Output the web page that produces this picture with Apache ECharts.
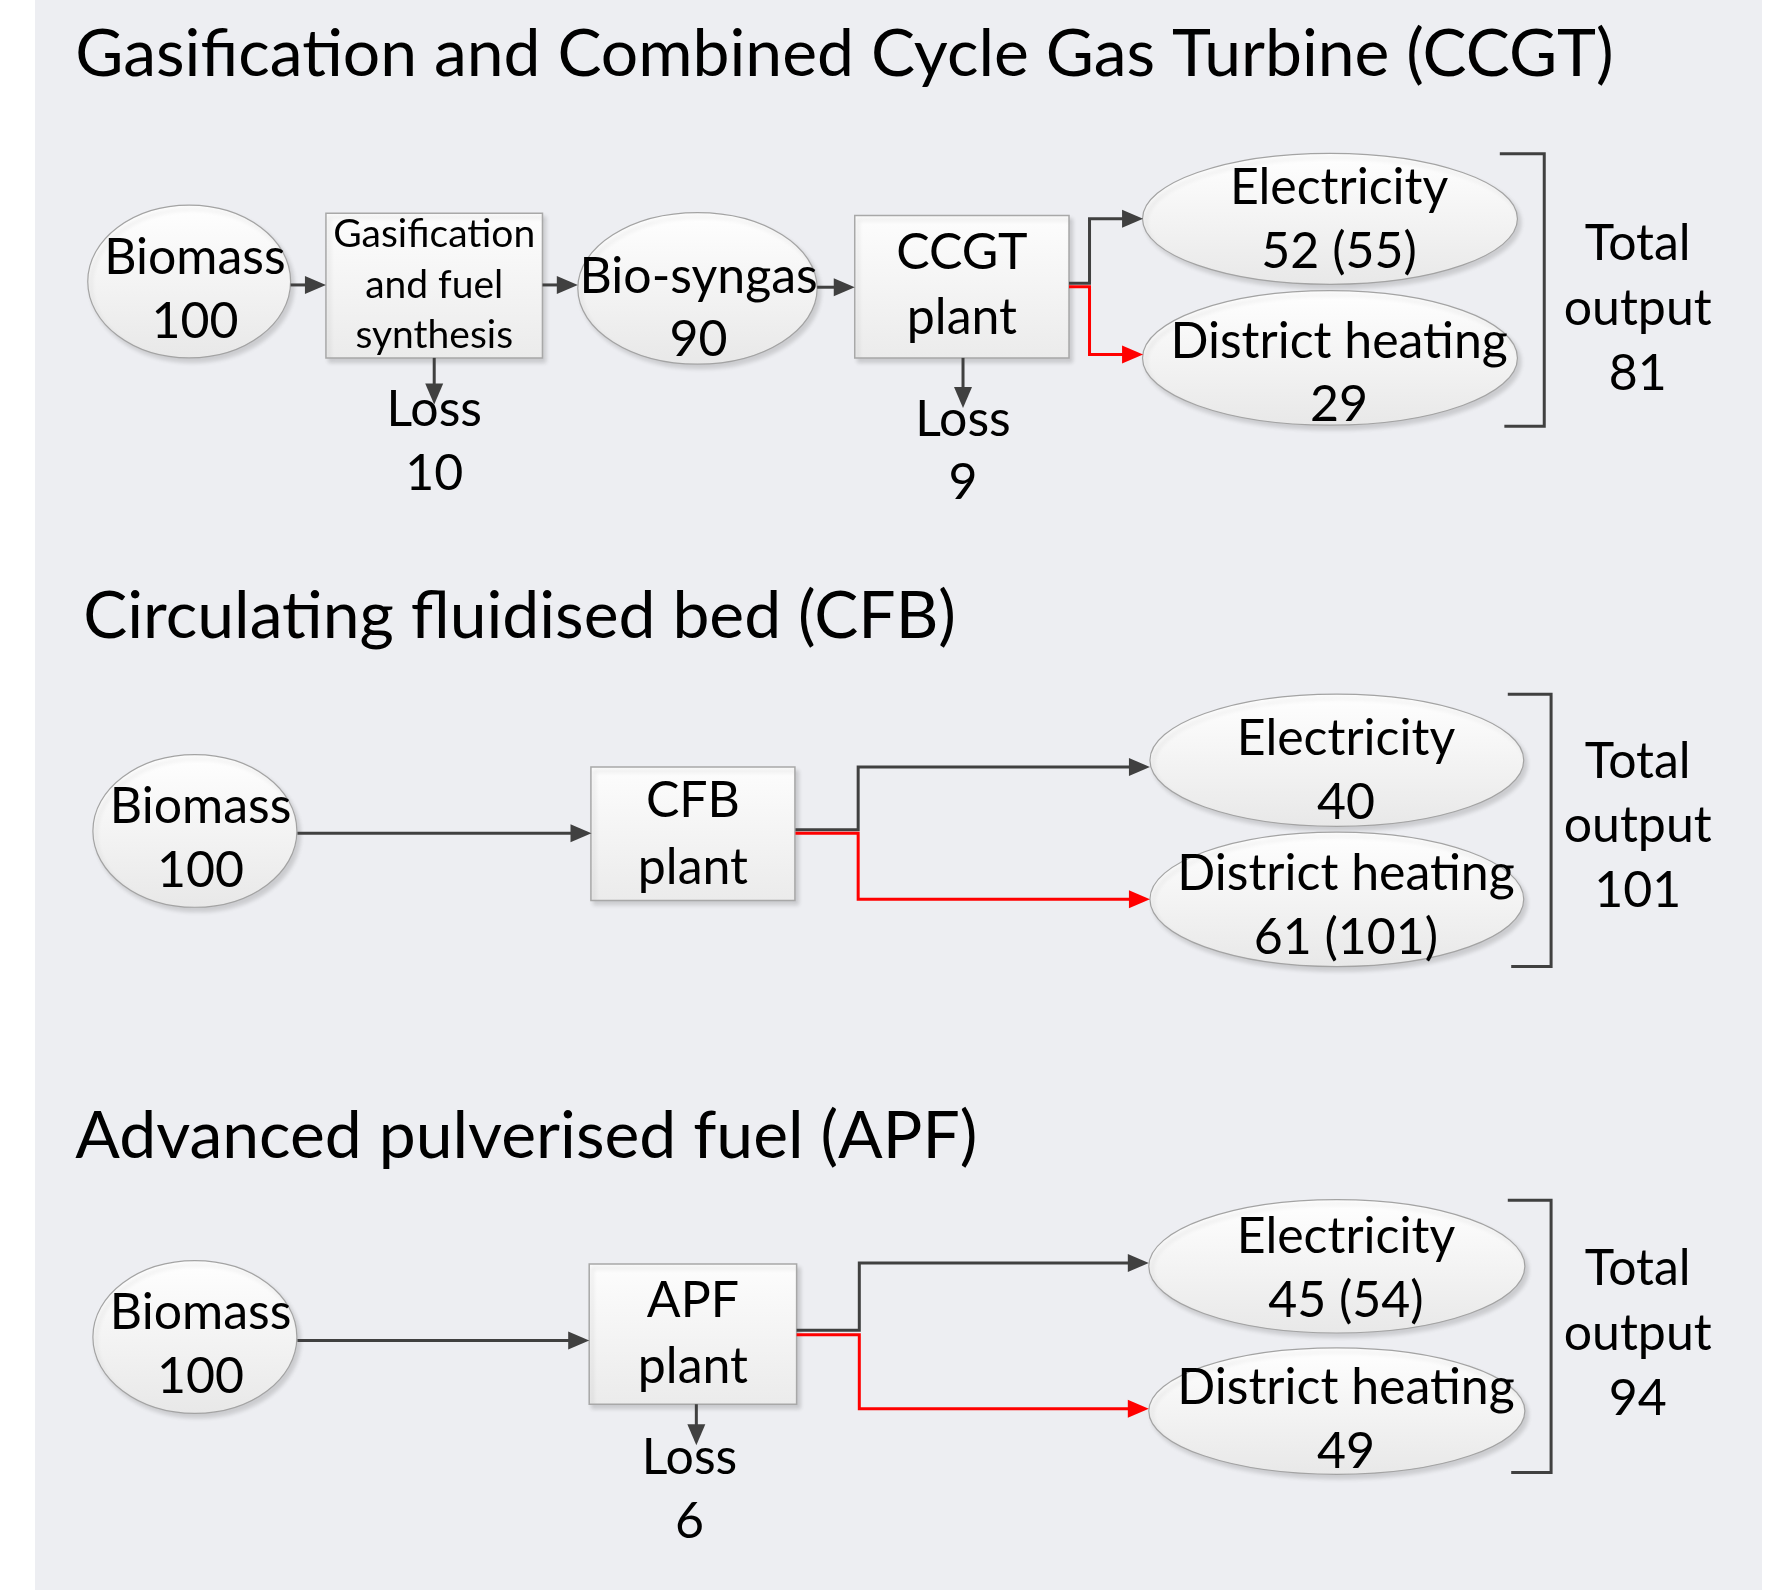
<!DOCTYPE html>
<html>
<head>
<meta charset="utf-8">
<title>Biomass conversion routes</title>
<script src="https://cdn.jsdelivr.net/npm/echarts@6/dist/echarts.min.js"></script>
<style>
  html, body { margin: 0; padding: 0; background: #fff; }
  #main { width: 1787px; height: 1590px; }
</style>
</head>
<body>
<div id="main"></div>
<script>
  // ---- data ----
  const sectionTitles = [
    'Gasification and Combined Cycle Gas Turbine (CCGT)',
    'Circulating fluidised bed (CFB)',
    'Advanced pulverised fuel (APF)'
  ]
  const biomassInput = ['100', '100', '100']
  const gasificationStep = ['Gasification', 'and fuel', 'synthesis']
  const syngasOutput = ['Bio-syngas', '90']
  const plantNames = ['CCGT', 'CFB', 'APF']
  const electricityOut = ['52 (55)', '40', '45 (54)']
  const heatingOut = ['29', '61 (101)', '49']
  const totalOutput = ['81', '101', '94']
  const lossValues = ['10', '9', '6']

  // ---- layout (axis units, x 0..1568, y 0..1395) ----
  const FONT = 'Lato, "Open Sans", sans-serif'
  const BIG = 50
  const SMALL = 39
  const TITLE = 66
  const DARK = '#404040'
  const RED = '#ff0000'

  const nodes = [
    // CCGT
    {shape: 'ellipse', c: [166, 247], size: [178, 134], lines: ['Biomass', biomassInput[0]], ty: [226, 282], tx: 5},
    {shape: 'rect', c: [381, 250.5], size: [190, 127], lines: gasificationStep, ty: [206, 250, 294], fs: SMALL},
    {shape: 'ellipse', c: [612, 253], size: [210, 133], lines: syngasOutput, ty: [243, 298], tx: 1},
    {shape: 'rect', c: [844, 251.5], size: [188, 125], lines: [plantNames[0], 'plant'], ty: [222, 279]},
    {shape: 'ellipse', c: [1167, 192], size: [329, 115], lines: ['Electricity', electricityOut[0]], ty: [165, 221], tx: 8},
    {shape: 'ellipse', c: [1167, 314], size: [329, 118], lines: ['District heating', heatingOut[0]], ty: [300, 355], tx: 8},
    // CFB
    {shape: 'ellipse', c: [171, 729], size: [179, 134], lines: ['Biomass', biomassInput[1]], ty: [708, 764], tx: 5},
    {shape: 'rect', c: [608, 731.5], size: [179, 117], lines: [plantNames[1], 'plant'], ty: [703, 761]},
    {shape: 'ellipse', c: [1173, 667], size: [328, 116], lines: ['Electricity', electricityOut[1]], ty: [648, 704], tx: 8},
    {shape: 'ellipse', c: [1173, 789], size: [328, 118], lines: ['District heating', heatingOut[1]], ty: [767, 823], tx: 8},
    // APF
    {shape: 'ellipse', c: [171, 1173], size: [179, 134], lines: ['Biomass', biomassInput[2]], ty: [1152, 1208], tx: 5},
    {shape: 'rect', c: [608, 1170.5], size: [182, 123], lines: [plantNames[2], 'plant'], ty: [1141, 1199]},
    {shape: 'ellipse', c: [1173, 1111], size: [330, 117], lines: ['Electricity', electricityOut[2]], ty: [1085, 1141], tx: 8},
    {shape: 'ellipse', c: [1173, 1238], size: [330, 111], lines: ['District heating', heatingOut[2]], ty: [1218, 1274], tx: 8}
  ]

  const labels = [
    {x: 66, ty: [48], lines: [sectionTitles[0]], fs: TITLE, align: 'left'},
    {x: 73, ty: [541], lines: [sectionTitles[1]], fs: TITLE, align: 'left'},
    {x: 66, ty: [997], lines: [sectionTitles[2]], fs: TITLE, align: 'left'},
    {x: 381, ty: [360, 416], lines: ['Loss', lossValues[0]]},
    {x: 845, ty: [368, 424], lines: ['Loss', lossValues[1]]},
    {x: 605, ty: [1279, 1335], lines: ['Loss', lossValues[2]]},
    {x: 1437, ty: [214, 271, 328], lines: ['Total', 'output', totalOutput[0]]},
    {x: 1437, ty: [668, 725, 782], lines: ['Total', 'output', totalOutput[1]]},
    {x: 1437, ty: [1113, 1170, 1227], lines: ['Total', 'output', totalOutput[2]]}
  ]

  const links = [
    // CCGT
    {pts: [[255, 250], [286, 250]]},
    {pts: [[476, 250], [507, 250]]},
    {pts: [[717, 252], [750, 252]]},
    {pts: [[381, 314], [381, 355]]},
    {pts: [[845, 314], [845, 358]]},
    {pts: [[938, 248.5], [956, 248.5], [956, 192], [1003, 192]]},
    {pts: [[938, 251.5], [956, 251.5], [956, 311], [1003, 311]], color: RED},
    {pts: [[1316, 135], [1355, 135], [1355, 374], [1320, 374]], noArrow: true},
    // CFB
    {pts: [[261, 731], [519, 731]]},
    {pts: [[698, 728], [753, 728], [753, 673], [1009, 673]]},
    {pts: [[698, 731], [753, 731], [753, 789], [1009, 789]], color: RED},
    {pts: [[1323, 609], [1361, 609], [1361, 848], [1326, 848]], noArrow: true},
    // APF
    {pts: [[261, 1176], [517, 1176]]},
    {pts: [[611, 1232], [611, 1268]]},
    {pts: [[699, 1167], [754, 1167], [754, 1108], [1008, 1108]]},
    {pts: [[699, 1171], [754, 1171], [754, 1236], [1008, 1236]], color: RED},
    {pts: [[1323, 1053], [1361, 1053], [1361, 1292], [1326, 1292]], noArrow: true}
  ]

  function textLines(api, x, ty, lines, fs, align) {
    return lines.map(function (t, i) {
      const p = api.coord([x, ty[i]])
      return {
        type: 'text',
        x: p[0],
        y: p[1],
        style: {
          text: t,
          fontFamily: FONT,
          fontSize: fs || BIG,
          fill: '#000',
          align: align || 'center',
          verticalAlign: 'middle'
        }
      }
    })
  }

  function renderNode(params, api) {
    const n = nodes[params.dataIndex]
    const p0 = api.coord([n.c[0] - n.size[0] / 2, n.c[1] - n.size[1] / 2])
    const p1 = api.coord([n.c[0] + n.size[0] / 2, n.c[1] + n.size[1] / 2])
    const w = p1[0] - p0[0]
    const h = p1[1] - p0[1]
    const fill = {
      type: 'linear', x: 0, y: 0, x2: 0, y2: 1,
      colorStops: n.shape === 'ellipse'
        ? [{offset: 0, color: '#ffffff'}, {offset: 1, color: '#e8e8e8'}]
        : [{offset: 0, color: '#fdfdfd'}, {offset: 1, color: '#ebebeb'}]
    }
    const style = {
      fill: fill,
      stroke: n.shape === 'ellipse' ? '#a3a3a3' : '#a8a8a8',
      lineWidth: n.shape === 'ellipse' ? 1.2 : 1.5,
      shadowBlur: 4,
      shadowOffsetX: 3,
      shadowOffsetY: 4,
      shadowColor: 'rgba(0,0,0,0.14)'
    }
    const body = n.shape === 'ellipse'
      ? {type: 'ellipse', shape: {cx: p0[0] + w / 2, cy: p0[1] + h / 2, rx: w / 2, ry: h / 2}, style: style}
      : {type: 'rect', shape: {x: p0[0], y: p0[1], width: w, height: h}, style: style}
    return {
      type: 'group',
      children: [body].concat(textLines(api, n.c[0] + (n.tx || 0), n.ty, n.lines, n.fs))
    }
  }

  function renderLabel(params, api) {
    const l = labels[params.dataIndex]
    return {type: 'group', children: textLines(api, l.x, l.ty, l.lines, l.fs, l.align)}
  }

  function renderLink(params, api) {
    const l = links[params.dataIndex]
    const color = l.color || DARK
    const pts = l.pts.map(function (p) { return api.coord(p) })
    const children = []
    if (!l.noArrow) {
      const a = pts[pts.length - 1]
      const b = pts[pts.length - 2]
      const dx = a[0] - b[0]
      const dy = a[1] - b[1]
      const len = Math.sqrt(dx * dx + dy * dy)
      const ux = dx / len
      const uy = dy / len
      const L = 21
      const HW = 9
      const base = [a[0] - ux * L, a[1] - uy * L]
      pts[pts.length - 1] = [a[0] - ux * (L - 3), a[1] - uy * (L - 3)]
      children.push({
        type: 'polygon',
        z2: 2,
        shape: {points: [a, [base[0] - uy * HW, base[1] + ux * HW], [base[0] + uy * HW, base[1] - ux * HW]]},
        style: {fill: color}
      })
    }
    children.unshift({
      type: 'polyline',
      shape: {points: pts},
      style: {stroke: color, lineWidth: 3, fill: null, lineJoin: 'miter'}
    })
    return {type: 'group', children: children}
  }

  const chart = echarts.init(document.getElementById('main'))
  chart.setOption({
    backgroundColor: '#ffffff',
    animation: false,
    graphic: [{
      type: 'rect',
      z: 0,
      left: 35,
      top: 0,
      shape: {width: 1727, height: 1590},
      style: {fill: '#edeef2'}
    }],
    grid: {left: 0, right: 0, top: 0, bottom: 0, show: false},
    xAxis: {type: 'value', min: 0, max: 1568, show: false},
    yAxis: {type: 'value', min: 0, max: 1395, inverse: true, show: false},
    series: [
      {
        type: 'custom',
        name: 'nodes',
        silent: true,
        z: 3,
        renderItem: renderNode,
        data: nodes.map(function (n) { return n.c })
      },
      {
        type: 'custom',
        name: 'links',
        silent: true,
        z: 4,
        renderItem: renderLink,
        data: links.map(function (l) { return l.pts[0] })
      },
      {
        type: 'custom',
        name: 'labels',
        silent: true,
        z: 5,
        renderItem: renderLabel,
        data: labels.map(function (l) { return [l.x, l.ty[0]] })
      }
    ]
  })
</script>
</body>
</html>
